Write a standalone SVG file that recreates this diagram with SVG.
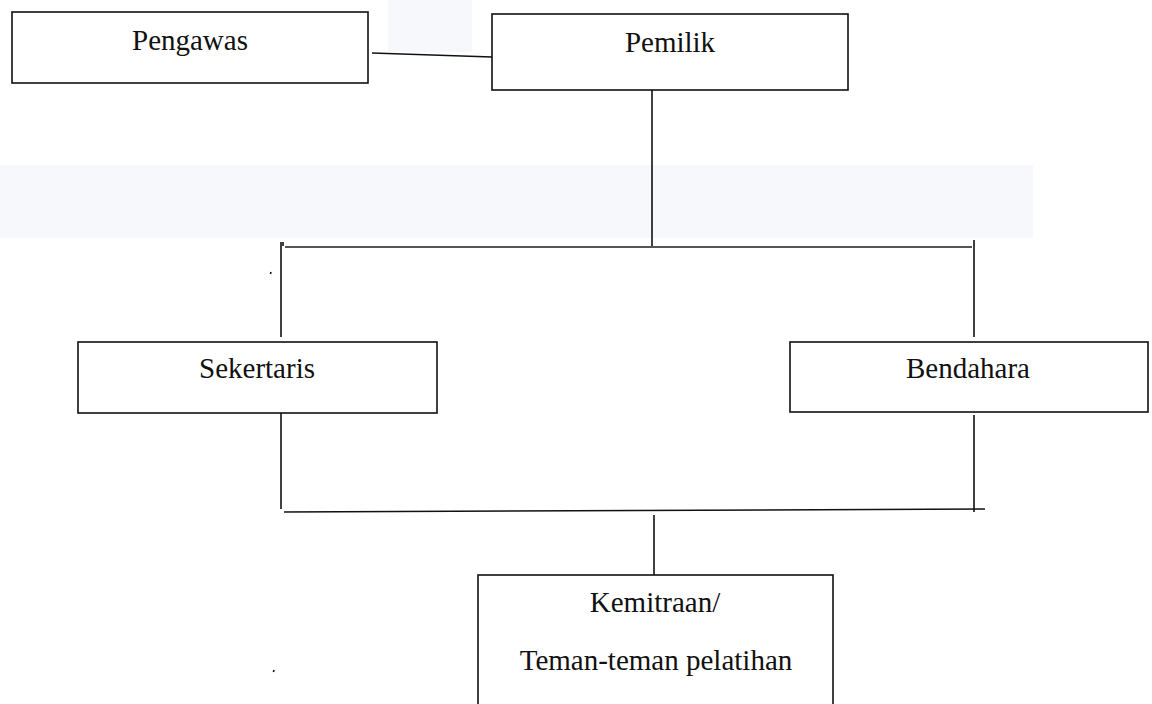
<svg xmlns="http://www.w3.org/2000/svg" width="1152" height="704" viewBox="0 0 1152 704">
<style>
.box{fill:#fff;stroke:#111;stroke-width:1.6}
.lbl{font-family:"Liberation Serif","Times New Roman",serif;font-size:29px;fill:#111;text-anchor:middle}
.ln{stroke:#111;stroke-width:1.6;fill:none}
.lg{stroke:#555;stroke-width:1.8;fill:none}
.bg{fill:#f7f8fc}
</style>
<rect width="1152" height="704" fill="#fff"/>
<g id="background">
<rect class="bg" x="388" y="0" width="84" height="52"/>
<rect class="bg" x="0" y="165" width="1033" height="73"/>
</g>
<g id="connectors">
<path class="ln" d="M372 53 L492 57"/>
<path class="ln" d="M652 90 V248"/>
<path class="lg" d="M285 247 H972"/>
<path class="ln" d="M281 242 V337"/>
<path class="ln" d="M974 240 V337"/>
<path class="ln" d="M281 413 V509"/>
<path class="ln" d="M974 415 V512"/>
<path class="ln" d="M284 512 L985 509"/>
<path class="ln" d="M654 515 V575"/>
<path class="ln" d="M364 54 v3"/>
<path class="ln" d="M283 242 v4"/>
<path class="ln" d="M271 272 l-0.6 2"/>
<path class="ln" d="M274 670 l-0.6 2"/>
</g>
<g id="pengawas">
<rect class="box" x="12" y="12" width="356" height="71"/>
<text class="lbl" x="190" y="50">Pengawas</text>
</g>
<g id="pemilik">
<rect class="box" x="492" y="14" width="356" height="76"/>
<text class="lbl" x="670" y="52">Pemilik</text>
</g>
<g id="sekertaris">
<rect class="box" x="78" y="342" width="359" height="71"/>
<text class="lbl" x="257" y="378">Sekertaris</text>
</g>
<g id="bendahara">
<rect class="box" x="790" y="342" width="358" height="70"/>
<text class="lbl" x="968" y="378">Bendahara</text>
</g>
<g id="kemitraan">
<rect class="box" x="478" y="575" width="355" height="140"/>
<text class="lbl" x="655" y="612">Kemitraan/</text>
<text class="lbl" x="656" y="670">Teman-teman pelatihan</text>
</g>
</svg>
